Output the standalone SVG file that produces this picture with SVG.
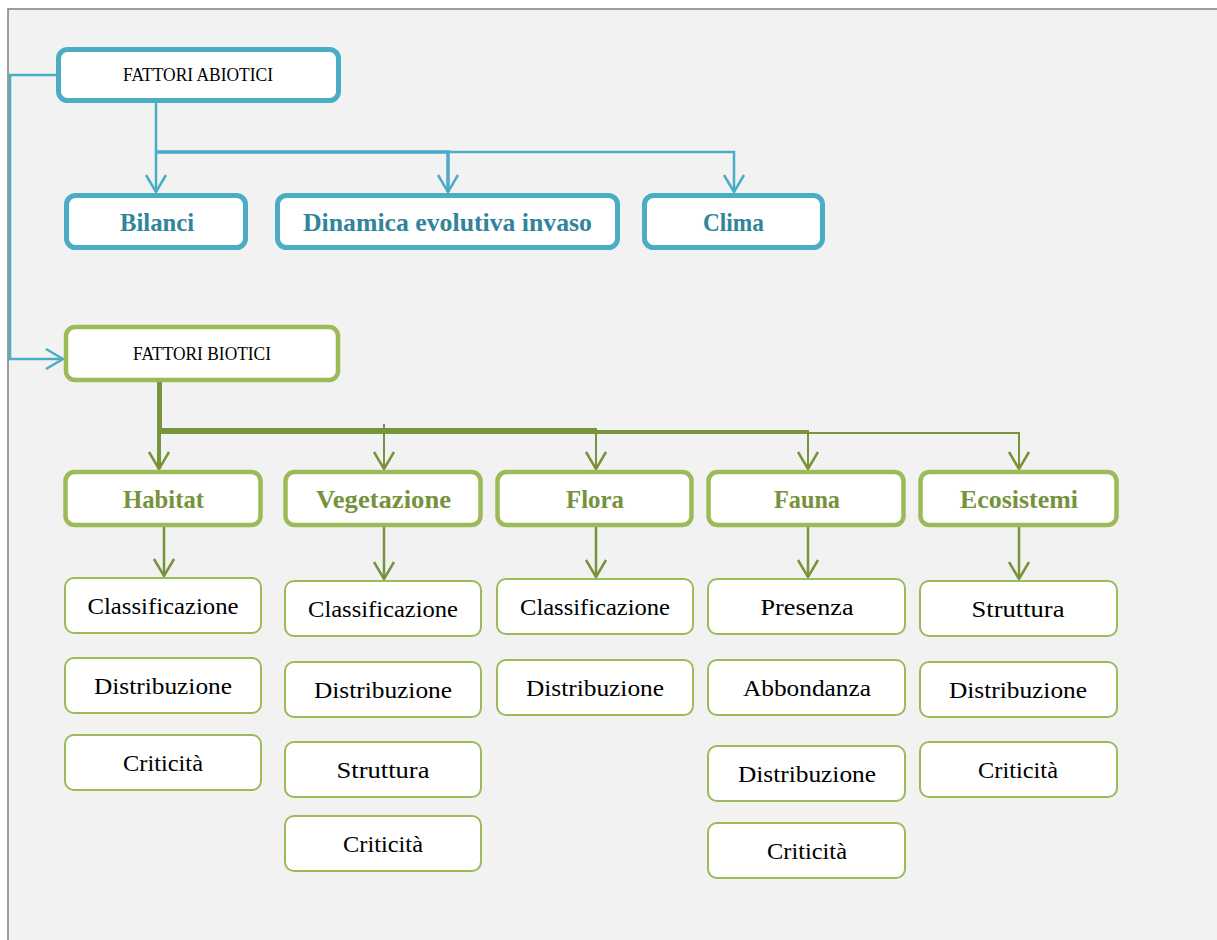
<svg xmlns="http://www.w3.org/2000/svg" width="1217" height="940" viewBox="0 0 1217 940">
<defs>
<style>
.bg{fill:#f2f2f2;stroke:#7f7f7f;stroke-width:1.5}
.ta{fill:#fff;stroke:#4bacc6;stroke-width:5}
.gb{fill:#fff;stroke:#9bbb59;stroke-width:4.5}
.gs{fill:#fff;stroke:#9bbb59;stroke-width:2}
.hdr{font-family:"Liberation Serif",serif;font-size:18px;fill:#000;text-anchor:middle}
.tl{font-family:"Liberation Serif",serif;font-size:25px;font-weight:bold;fill:#31849b;text-anchor:middle}
.gl{font-family:"Liberation Serif",serif;font-size:25px;font-weight:bold;fill:#76923c;text-anchor:middle}
.sl{font-family:"Liberation Serif",serif;font-size:24px;fill:#000;text-anchor:middle}
.tc{fill:none;stroke:#4bacc6;stroke-width:2.5}
.gc{fill:none;stroke:#77933c;stroke-width:2.5}
.gh{fill:none;stroke:#77933c;stroke-width:2}
</style>
<marker id="at" viewBox="-19 -12 21 24" markerUnits="userSpaceOnUse" markerWidth="21" markerHeight="24" refX="0" refY="0" orient="auto">
<path d="M-17,-10 L0,0 L-17,10" fill="none" stroke="#4bacc6" stroke-width="2.5"/>
</marker>
<marker id="ag" viewBox="-19 -12 21 24" markerUnits="userSpaceOnUse" markerWidth="21" markerHeight="24" refX="0" refY="0" orient="auto">
<path d="M-17,-10 L0,0 L-17,10" fill="none" stroke="#77933c" stroke-width="2.5"/>
</marker>
</defs>
<rect x="0" y="0" width="1217" height="940" fill="#fff"/>
<rect class="bg" x="8" y="9" width="1230" height="950"/>

<g id="connectors">
<path class="tc" d="M57,75 H10 V359 H63" marker-end="url(#at)"/>
<path class="tc" d="M156,103 V192" marker-end="url(#at)"/>
<path class="tc" style="stroke-width:3.5" d="M156,152 H448 V192" marker-end="url(#at)"/>
<path class="tc" d="M156,152 H734 V192" marker-end="url(#at)"/>
<path class="gc" style="stroke-width:4" d="M159,382 V469" marker-end="url(#ag)"/>
<path class="gh" d="M161,382 V429 H596 V469" marker-end="url(#ag)"/>
<path class="gh" d="M161,382 V431 H808 V469" marker-end="url(#ag)"/>
<path class="gh" d="M161,382 V433 H1019 V469" marker-end="url(#ag)"/>
<path class="gh" d="M384,424 V469" marker-end="url(#ag)"/>
<path class="gc" d="M164,527 V576" marker-end="url(#ag)"/>
<path class="gc" d="M384,527 V579" marker-end="url(#ag)"/>
<path class="gc" d="M596,527 V577" marker-end="url(#ag)"/>
<path class="gc" d="M808,527 V577" marker-end="url(#ag)"/>
<path class="gc" d="M1019,527 V579" marker-end="url(#ag)"/>
</g>

<g id="fattori-abiotici"><rect class="ta" x="58.5" y="49.5" width="280" height="51" rx="9"/><text class="hdr" x="198" y="81" textLength="150" lengthAdjust="spacingAndGlyphs">FATTORI ABIOTICI</text></g>
<g id="bilanci"><rect class="ta" x="66.5" y="195.5" width="179" height="52" rx="9"/><text class="tl" x="157" y="231" textLength="74" lengthAdjust="spacingAndGlyphs">Bilanci</text></g>
<g id="dinamica"><rect class="ta" x="277.5" y="195.5" width="340" height="52" rx="9"/><text class="tl" x="447.5" y="231" textLength="289" lengthAdjust="spacingAndGlyphs">Dinamica evolutiva invaso</text></g>
<g id="clima"><rect class="ta" x="644.5" y="195.5" width="178" height="52" rx="9"/><text class="tl" x="733.5" y="231" textLength="61" lengthAdjust="spacingAndGlyphs">Clima</text></g>

<g id="fattori-biotici"><rect class="gb" x="66" y="327" width="272" height="53" rx="9"/><text class="hdr" x="202" y="360" textLength="138" lengthAdjust="spacingAndGlyphs">FATTORI BIOTICI</text></g>

<g id="habitat"><rect class="gb" x="65.5" y="472" width="195" height="53" rx="9"/><text class="gl" x="163.5" y="508" textLength="81" lengthAdjust="spacingAndGlyphs">Habitat</text></g>
<g id="vegetazione"><rect class="gb" x="285.5" y="472" width="195" height="53" rx="9"/><text class="gl" x="383.5" y="508" textLength="135" lengthAdjust="spacingAndGlyphs">Vegetazione</text></g>
<g id="flora"><rect class="gb" x="497.5" y="472" width="194" height="53" rx="9"/><text class="gl" x="595" y="508" textLength="58" lengthAdjust="spacingAndGlyphs">Flora</text></g>
<g id="fauna"><rect class="gb" x="708.5" y="472" width="195" height="53" rx="9"/><text class="gl" x="807" y="508" textLength="66" lengthAdjust="spacingAndGlyphs">Fauna</text></g>
<g id="ecosistemi"><rect class="gb" x="920.5" y="472" width="196" height="53" rx="9"/><text class="gl" x="1019" y="508" textLength="118" lengthAdjust="spacingAndGlyphs">Ecosistemi</text></g>

<g id="habitat-classificazione"><rect class="gs" x="65" y="578" width="196" height="55" rx="9"/><text class="sl" x="163" y="614" textLength="151" lengthAdjust="spacingAndGlyphs">Classificazione</text></g>
<g id="habitat-distribuzione"><rect class="gs" x="65" y="658" width="196" height="55" rx="9"/><text class="sl" x="163" y="694" textLength="138" lengthAdjust="spacingAndGlyphs">Distribuzione</text></g>
<g id="habitat-criticita"><rect class="gs" x="65" y="735" width="196" height="55" rx="9"/><text class="sl" x="163" y="771" textLength="80" lengthAdjust="spacingAndGlyphs">Criticità</text></g>

<g id="vegetazione-classificazione"><rect class="gs" x="285" y="581" width="196" height="55" rx="9"/><text class="sl" x="383" y="617" textLength="150" lengthAdjust="spacingAndGlyphs">Classificazione</text></g>
<g id="vegetazione-distribuzione"><rect class="gs" x="285" y="662" width="196" height="55" rx="9"/><text class="sl" x="383" y="698" textLength="138" lengthAdjust="spacingAndGlyphs">Distribuzione</text></g>
<g id="vegetazione-struttura"><rect class="gs" x="285" y="742" width="196" height="55" rx="9"/><text class="sl" x="383" y="778" textLength="93" lengthAdjust="spacingAndGlyphs">Struttura</text></g>
<g id="vegetazione-criticita"><rect class="gs" x="285" y="816" width="196" height="55" rx="9"/><text class="sl" x="383" y="852" textLength="80" lengthAdjust="spacingAndGlyphs">Criticità</text></g>

<g id="flora-classificazione"><rect class="gs" x="497" y="579" width="196" height="55" rx="9"/><text class="sl" x="595" y="615" textLength="150" lengthAdjust="spacingAndGlyphs">Classificazione</text></g>
<g id="flora-distribuzione"><rect class="gs" x="497" y="660" width="196" height="55" rx="9"/><text class="sl" x="595" y="696" textLength="138" lengthAdjust="spacingAndGlyphs">Distribuzione</text></g>

<g id="fauna-presenza"><rect class="gs" x="708" y="579" width="197" height="55" rx="9"/><text class="sl" x="807" y="615" textLength="93" lengthAdjust="spacingAndGlyphs">Presenza</text></g>
<g id="fauna-abbondanza"><rect class="gs" x="708" y="660" width="197" height="55" rx="9"/><text class="sl" x="807" y="696" textLength="128" lengthAdjust="spacingAndGlyphs">Abbondanza</text></g>
<g id="fauna-distribuzione"><rect class="gs" x="708" y="746" width="197" height="55" rx="9"/><text class="sl" x="807" y="782" textLength="138" lengthAdjust="spacingAndGlyphs">Distribuzione</text></g>
<g id="fauna-criticita"><rect class="gs" x="708" y="823" width="197" height="55" rx="9"/><text class="sl" x="807" y="859" textLength="80" lengthAdjust="spacingAndGlyphs">Criticità</text></g>

<g id="ecosistemi-struttura"><rect class="gs" x="920" y="581" width="197" height="55" rx="9"/><text class="sl" x="1018" y="617" textLength="93" lengthAdjust="spacingAndGlyphs">Struttura</text></g>
<g id="ecosistemi-distribuzione"><rect class="gs" x="920" y="662" width="197" height="55" rx="9"/><text class="sl" x="1018" y="698" textLength="138" lengthAdjust="spacingAndGlyphs">Distribuzione</text></g>
<g id="ecosistemi-criticita"><rect class="gs" x="920" y="742" width="197" height="55" rx="9"/><text class="sl" x="1018" y="778" textLength="80" lengthAdjust="spacingAndGlyphs">Criticità</text></g>
</svg>
